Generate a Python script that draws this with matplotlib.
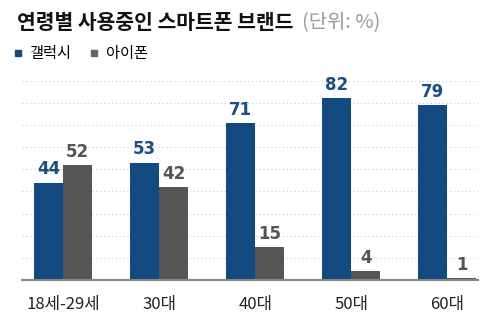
import matplotlib
matplotlib.use('Agg')
import matplotlib.pyplot as plt
from matplotlib.lines import Line2D
import numpy as np

plt.rcParams['font.family'] = ['Noto Sans CJK KR', 'DejaVu Sans']

# Données
categories = ['18세-29세', '30대', '40대', '50대', '60대']
galaxy = [44, 53, 71, 82, 79]
iphone = [52, 42, 15, 4, 1]
series_names = ['갤럭시', '아이폰']

blue = '#134b80'
gray = '#555555'

fig = plt.figure(figsize=(5, 3.19), dpi=100)
ax = fig.add_axes([0.044, 0.1223, 0.912, 0.6248])

x = np.arange(len(categories))
w = 0.30
b1 = ax.bar(x - w / 2, galaxy, w, color=blue, zorder=3)
b2 = ax.bar(x + w / 2, iphone, w, color=gray, zorder=3)

# Étiquettes de valeurs
for rect, v in zip(b1, galaxy):
    ax.annotate(str(v), (rect.get_x() + rect.get_width() / 2, v),
                xytext=(0, 3), textcoords='offset points', ha='center', va='bottom',
                fontsize=12, fontweight='bold', color='#1a4f86', family='DejaVu Sans',
                annotation_clip=False)
for rect, v in zip(b2, iphone):
    ax.annotate(str(v), (rect.get_x() + rect.get_width() / 2, v),
                xytext=(0, 3), textcoords='offset points', ha='center', va='bottom',
                fontsize=12, fontweight='bold', color='#555555', family='DejaVu Sans',
                annotation_clip=False)

ax.set_xlim(-0.427, 4.32)
ax.set_ylim(0, 90)
ax.set_yticks(np.arange(10, 91, 10))
ax.yaxis.grid(True, linestyle=(0, (1, 2.5)), color='#cccccc', linewidth=0.8, zorder=0)
ax.tick_params(axis='y', left=False, labelleft=False)
ax.tick_params(axis='x', bottom=False, pad=8)
ax.set_xticks(x)
ax.set_xticklabels(categories, fontsize=12, color='#222222')
for s in ['top', 'right', 'left']:
    ax.spines[s].set_visible(False)
ax.spines['bottom'].set_color('#888888')
ax.spines['bottom'].set_linewidth(1.5)
ax.spines['bottom'].set_zorder(4)

# Titre
fig.text(0.034, 0.928, '연령별 사용중인 스마트폰 브랜드', fontsize=14.7, fontweight='bold',
         color='#111111', va='center')
fig.text(0.603, 0.928, '(단위: %)', fontsize=14.3, color='#999999', va='center')

# Légende
handles = [Line2D([], [], marker='s', linestyle='none', color=blue, markersize=4.5),
           Line2D([], [], marker='s', linestyle='none', color='#666666', markersize=4.5)]
fig.legend(handles, series_names, loc='center left', bbox_to_anchor=(0.027, 0.832),
           ncol=2, frameon=False, fontsize=11, handlelength=0.6, handletextpad=0.45,
           columnspacing=1.2, borderaxespad=0, borderpad=0)

plt.savefig('out.png', dpi=100)
